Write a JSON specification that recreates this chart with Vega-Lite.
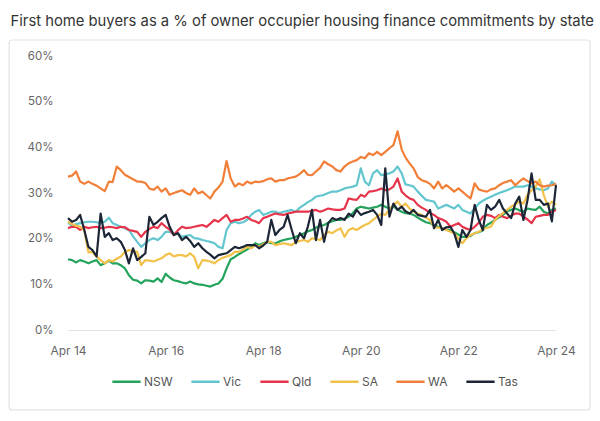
{
  "$schema": "https://vega.github.io/schema/vega-lite/v6.json",
  "width": 488,
  "height": 274,
  "autosize": {"type": "none"},
  "padding": {"left": 68, "top": 56, "right": 44, "bottom": 91},
  "background": "white",
  "title": {
    "text": "First home buyers as a % of owner occupier housing finance commitments by state",
    "anchor": "start",
    "frame": "bounds",
    "dx": 2,
    "offset": 11,
    "font": "Inter",
    "fontSize": 14.8,
    "fontWeight": "normal",
    "color": "#333333"
  },
  "datasets": {
    "NSW": [
      {"d":"2014-04","v":15.5},{"d":"2014-05","v":15.3},{"d":"2014-06","v":14.8},{"d":"2014-07","v":15.3},{"d":"2014-08","v":15.0},{"d":"2014-09","v":14.6},{"d":"2014-10","v":15.0},{"d":"2014-11","v":15.3},{"d":"2014-12","v":14.2},
      {"d":"2015-01","v":14.6},{"d":"2015-02","v":15.2},{"d":"2015-03","v":14.6},{"d":"2015-04","v":14.6},{"d":"2015-05","v":14.2},{"d":"2015-06","v":13.5},{"d":"2015-07","v":12.0},{"d":"2015-08","v":11.0},{"d":"2015-09","v":10.8},{"d":"2015-10","v":10.2},{"d":"2015-11","v":10.9},{"d":"2015-12","v":10.8},
      {"d":"2016-01","v":10.6},{"d":"2016-02","v":11.3},{"d":"2016-03","v":10.5},{"d":"2016-04","v":12.3},{"d":"2016-05","v":11.5},{"d":"2016-06","v":10.9},{"d":"2016-07","v":10.7},{"d":"2016-08","v":10.4},{"d":"2016-09","v":10.2},{"d":"2016-10","v":10.6},{"d":"2016-11","v":10.2},{"d":"2016-12","v":10.0},
      {"d":"2017-01","v":9.9},{"d":"2017-02","v":9.7},{"d":"2017-03","v":9.5},{"d":"2017-04","v":9.9},{"d":"2017-05","v":10.2},{"d":"2017-06","v":11.2},{"d":"2017-07","v":13.5},{"d":"2017-08","v":15.5},{"d":"2017-09","v":16.0},{"d":"2017-10","v":16.6},{"d":"2017-11","v":17.1},{"d":"2017-12","v":17.6},
      {"d":"2018-01","v":18.2},{"d":"2018-02","v":19.0},{"d":"2018-03","v":18.6},{"d":"2018-04","v":19.0},{"d":"2018-05","v":19.3},{"d":"2018-06","v":19.0},{"d":"2018-07","v":19.0},{"d":"2018-08","v":19.4},{"d":"2018-09","v":19.7},{"d":"2018-10","v":19.9},{"d":"2018-11","v":20.1},{"d":"2018-12","v":20.4},
      {"d":"2019-01","v":20.8},{"d":"2019-02","v":21.2},{"d":"2019-03","v":21.6},{"d":"2019-04","v":21.9},{"d":"2019-05","v":22.4},{"d":"2019-06","v":22.8},{"d":"2019-07","v":23.0},{"d":"2019-08","v":23.5},{"d":"2019-09","v":23.8},{"d":"2019-10","v":24.1},{"d":"2019-11","v":24.1},{"d":"2019-12","v":24.4},
      {"d":"2020-01","v":24.8},{"d":"2020-02","v":25.6},{"d":"2020-03","v":26.6},{"d":"2020-04","v":27.0},{"d":"2020-05","v":26.8},{"d":"2020-06","v":26.6},{"d":"2020-07","v":26.8},{"d":"2020-08","v":27.0},{"d":"2020-09","v":27.4},{"d":"2020-10","v":27.0},{"d":"2020-11","v":26.6},{"d":"2020-12","v":27.0},
      {"d":"2021-01","v":26.4},{"d":"2021-02","v":25.9},{"d":"2021-03","v":25.6},{"d":"2021-04","v":25.5},{"d":"2021-05","v":25.2},{"d":"2021-06","v":24.6},{"d":"2021-07","v":24.1},{"d":"2021-08","v":23.6},{"d":"2021-09","v":23.4},{"d":"2021-10","v":23.0},{"d":"2021-11","v":22.6},{"d":"2021-12","v":22.3},
      {"d":"2022-01","v":22.0},{"d":"2022-02","v":21.8},{"d":"2022-03","v":21.4},{"d":"2022-04","v":20.9},{"d":"2022-05","v":20.4},{"d":"2022-06","v":20.4},{"d":"2022-07","v":20.6},{"d":"2022-08","v":21.2},{"d":"2022-09","v":21.4},{"d":"2022-10","v":21.8},{"d":"2022-11","v":23.0},{"d":"2022-12","v":23.5},
      {"d":"2023-01","v":24.1},{"d":"2023-02","v":24.7},{"d":"2023-03","v":25.2},{"d":"2023-04","v":26.0},{"d":"2023-05","v":26.3},{"d":"2023-06","v":26.6},{"d":"2023-07","v":26.2},{"d":"2023-08","v":25.9},{"d":"2023-09","v":26.6},{"d":"2023-10","v":26.4},{"d":"2023-11","v":26.3},{"d":"2023-12","v":27.0},
      {"d":"2024-01","v":25.9},{"d":"2024-02","v":25.5},{"d":"2024-03","v":26.3},{"d":"2024-04","v":26.6}
    ],
    "Vic": [
      {"d":"2014-04","v":23.5},{"d":"2014-05","v":22.8},{"d":"2014-06","v":23.2},{"d":"2014-07","v":23.4},{"d":"2014-08","v":23.6},{"d":"2014-09","v":23.7},{"d":"2014-10","v":23.7},{"d":"2014-11","v":23.6},{"d":"2014-12","v":23.4},
      {"d":"2015-01","v":23.7},{"d":"2015-02","v":24.6},{"d":"2015-03","v":23.4},{"d":"2015-04","v":23.0},{"d":"2015-05","v":22.6},{"d":"2015-06","v":22.3},{"d":"2015-07","v":21.9},{"d":"2015-08","v":20.5},{"d":"2015-09","v":19.3},{"d":"2015-10","v":18.2},{"d":"2015-11","v":19.0},{"d":"2015-12","v":19.7},
      {"d":"2016-01","v":20.1},{"d":"2016-02","v":19.7},{"d":"2016-03","v":20.4},{"d":"2016-04","v":21.5},{"d":"2016-05","v":21.5},{"d":"2016-06","v":21.0},{"d":"2016-07","v":21.2},{"d":"2016-08","v":20.4},{"d":"2016-09","v":20.6},{"d":"2016-10","v":20.8},{"d":"2016-11","v":20.1},{"d":"2016-12","v":20.0},
      {"d":"2017-01","v":19.7},{"d":"2017-02","v":19.5},{"d":"2017-03","v":19.3},{"d":"2017-04","v":19.0},{"d":"2017-05","v":18.2},{"d":"2017-06","v":17.9},{"d":"2017-07","v":21.9},{"d":"2017-08","v":23.4},{"d":"2017-09","v":23.7},{"d":"2017-10","v":23.4},{"d":"2017-11","v":23.6},{"d":"2017-12","v":24.1},
      {"d":"2018-01","v":25.2},{"d":"2018-02","v":25.9},{"d":"2018-03","v":26.3},{"d":"2018-04","v":25.2},{"d":"2018-05","v":25.5},{"d":"2018-06","v":25.9},{"d":"2018-07","v":25.9},{"d":"2018-08","v":25.6},{"d":"2018-09","v":25.9},{"d":"2018-10","v":26.1},{"d":"2018-11","v":26.3},{"d":"2018-12","v":25.9},
      {"d":"2019-01","v":26.8},{"d":"2019-02","v":27.4},{"d":"2019-03","v":28.0},{"d":"2019-04","v":28.5},{"d":"2019-05","v":29.2},{"d":"2019-06","v":29.4},{"d":"2019-07","v":29.6},{"d":"2019-08","v":30.0},{"d":"2019-09","v":30.3},{"d":"2019-10","v":30.3},{"d":"2019-11","v":30.6},{"d":"2019-12","v":31.0},
      {"d":"2020-01","v":31.2},{"d":"2020-02","v":31.4},{"d":"2020-03","v":31.7},{"d":"2020-04","v":35.4},{"d":"2020-05","v":32.5},{"d":"2020-06","v":31.7},{"d":"2020-07","v":34.3},{"d":"2020-08","v":35.0},{"d":"2020-09","v":33.9},{"d":"2020-10","v":34.1},{"d":"2020-11","v":34.3},{"d":"2020-12","v":34.7},
      {"d":"2021-01","v":35.8},{"d":"2021-02","v":34.3},{"d":"2021-03","v":31.9},{"d":"2021-04","v":31.7},{"d":"2021-05","v":31.4},{"d":"2021-06","v":30.3},{"d":"2021-07","v":29.4},{"d":"2021-08","v":28.5},{"d":"2021-09","v":28.3},{"d":"2021-10","v":28.1},{"d":"2021-11","v":26.6},{"d":"2021-12","v":27.0},
      {"d":"2022-01","v":27.4},{"d":"2022-02","v":27.0},{"d":"2022-03","v":26.6},{"d":"2022-04","v":27.4},{"d":"2022-05","v":26.3},{"d":"2022-06","v":25.9},{"d":"2022-07","v":25.5},{"d":"2022-08","v":26.6},{"d":"2022-09","v":27.7},{"d":"2022-10","v":28.3},{"d":"2022-11","v":28.8},{"d":"2022-12","v":29.2},
      {"d":"2023-01","v":29.6},{"d":"2023-02","v":30.0},{"d":"2023-03","v":30.3},{"d":"2023-04","v":30.6},{"d":"2023-05","v":31.0},{"d":"2023-06","v":31.4},{"d":"2023-07","v":31.4},{"d":"2023-08","v":31.4},{"d":"2023-09","v":31.7},{"d":"2023-10","v":31.4},{"d":"2023-11","v":31.0},{"d":"2023-12","v":30.8},
      {"d":"2024-01","v":30.6},{"d":"2024-02","v":31.0},{"d":"2024-03","v":32.5},{"d":"2024-04","v":31.7}
    ],
    "Qld": [
      {"d":"2014-04","v":22.3},{"d":"2014-05","v":22.6},{"d":"2014-06","v":22.6},{"d":"2014-07","v":21.9},{"d":"2014-08","v":22.6},{"d":"2014-09","v":22.3},{"d":"2014-10","v":22.5},{"d":"2014-11","v":22.6},{"d":"2014-12","v":22.3},
      {"d":"2015-01","v":22.4},{"d":"2015-02","v":22.6},{"d":"2015-03","v":22.5},{"d":"2015-04","v":22.3},{"d":"2015-05","v":22.6},{"d":"2015-06","v":22.5},{"d":"2015-07","v":21.9},{"d":"2015-08","v":21.7},{"d":"2015-09","v":21.5},{"d":"2015-10","v":20.4},{"d":"2015-11","v":21.5},{"d":"2015-12","v":22.1},
      {"d":"2016-01","v":22.6},{"d":"2016-02","v":22.3},{"d":"2016-03","v":23.4},{"d":"2016-04","v":22.6},{"d":"2016-05","v":22.0},{"d":"2016-06","v":20.8},{"d":"2016-07","v":21.8},{"d":"2016-08","v":22.6},{"d":"2016-09","v":22.3},{"d":"2016-10","v":22.4},{"d":"2016-11","v":22.6},{"d":"2016-12","v":22.8},
      {"d":"2017-01","v":23.0},{"d":"2017-02","v":22.6},{"d":"2017-03","v":23.3},{"d":"2017-04","v":24.1},{"d":"2017-05","v":23.7},{"d":"2017-06","v":24.5},{"d":"2017-07","v":25.2},{"d":"2017-08","v":23.7},{"d":"2017-09","v":24.1},{"d":"2017-10","v":24.1},{"d":"2017-11","v":24.4},{"d":"2017-12","v":24.8},
      {"d":"2018-01","v":24.1},{"d":"2018-02","v":23.8},{"d":"2018-03","v":23.4},{"d":"2018-04","v":24.5},{"d":"2018-05","v":24.8},{"d":"2018-06","v":25.2},{"d":"2018-07","v":25.5},{"d":"2018-08","v":25.3},{"d":"2018-09","v":25.2},{"d":"2018-10","v":25.5},{"d":"2018-11","v":25.7},{"d":"2018-12","v":25.9},
      {"d":"2019-01","v":25.9},{"d":"2019-02","v":25.9},{"d":"2019-03","v":25.9},{"d":"2019-04","v":26.1},{"d":"2019-05","v":26.3},{"d":"2019-06","v":25.9},{"d":"2019-07","v":26.2},{"d":"2019-08","v":26.6},{"d":"2019-09","v":26.4},{"d":"2019-10","v":26.3},{"d":"2019-11","v":26.3},{"d":"2019-12","v":26.6},
      {"d":"2020-01","v":28.8},{"d":"2020-02","v":28.6},{"d":"2020-03","v":28.5},{"d":"2020-04","v":29.6},{"d":"2020-05","v":29.2},{"d":"2020-06","v":30.3},{"d":"2020-07","v":30.4},{"d":"2020-08","v":30.6},{"d":"2020-09","v":31.0},{"d":"2020-10","v":30.6},{"d":"2020-11","v":30.8},{"d":"2020-12","v":31.4},
      {"d":"2021-01","v":33.2},{"d":"2021-02","v":30.3},{"d":"2021-03","v":29.5},{"d":"2021-04","v":28.8},{"d":"2021-05","v":28.5},{"d":"2021-06","v":27.4},{"d":"2021-07","v":26.8},{"d":"2021-08","v":26.3},{"d":"2021-09","v":25.6},{"d":"2021-10","v":25.2},{"d":"2021-11","v":24.5},{"d":"2021-12","v":24.2},
      {"d":"2022-01","v":23.7},{"d":"2022-02","v":22.6},{"d":"2022-03","v":23.0},{"d":"2022-04","v":23.4},{"d":"2022-05","v":22.6},{"d":"2022-06","v":22.2},{"d":"2022-07","v":21.9},{"d":"2022-08","v":22.6},{"d":"2022-09","v":23.5},{"d":"2022-10","v":24.8},{"d":"2022-11","v":25.2},{"d":"2022-12","v":25.0},
      {"d":"2023-01","v":24.5},{"d":"2023-02","v":25.2},{"d":"2023-03","v":24.8},{"d":"2023-04","v":24.5},{"d":"2023-05","v":25.0},{"d":"2023-06","v":25.5},{"d":"2023-07","v":25.5},{"d":"2023-08","v":24.8},{"d":"2023-09","v":24.2},{"d":"2023-10","v":23.4},{"d":"2023-11","v":24.8},{"d":"2023-12","v":25.0},
      {"d":"2024-01","v":25.2},{"d":"2024-02","v":25.2},{"d":"2024-03","v":25.9},{"d":"2024-04","v":26.3}
    ],
    "SA": [
      {"d":"2014-04","v":23.7},{"d":"2014-05","v":23.2},{"d":"2014-06","v":22.8},{"d":"2014-07","v":22.6},{"d":"2014-08","v":21.9},{"d":"2014-09","v":17.0},{"d":"2014-10","v":17.1},{"d":"2014-11","v":16.1},{"d":"2014-12","v":15.3},
      {"d":"2015-01","v":14.6},{"d":"2015-02","v":15.3},{"d":"2015-03","v":15.0},{"d":"2015-04","v":15.6},{"d":"2015-05","v":16.1},{"d":"2015-06","v":17.1},{"d":"2015-07","v":17.5},{"d":"2015-08","v":17.3},{"d":"2015-09","v":17.1},{"d":"2015-10","v":14.2},{"d":"2015-11","v":15.3},{"d":"2015-12","v":15.2},
      {"d":"2016-01","v":15.0},{"d":"2016-02","v":15.4},{"d":"2016-03","v":15.7},{"d":"2016-04","v":16.4},{"d":"2016-05","v":16.8},{"d":"2016-06","v":16.1},{"d":"2016-07","v":16.4},{"d":"2016-08","v":16.4},{"d":"2016-09","v":16.1},{"d":"2016-10","v":16.8},{"d":"2016-11","v":16.0},{"d":"2016-12","v":13.5},
      {"d":"2017-01","v":15.3},{"d":"2017-02","v":15.2},{"d":"2017-03","v":15.0},{"d":"2017-04","v":14.6},{"d":"2017-05","v":15.3},{"d":"2017-06","v":15.8},{"d":"2017-07","v":16.1},{"d":"2017-08","v":16.4},{"d":"2017-09","v":17.1},{"d":"2017-10","v":17.1},{"d":"2017-11","v":17.6},{"d":"2017-12","v":18.2},
      {"d":"2018-01","v":17.9},{"d":"2018-02","v":18.6},{"d":"2018-03","v":18.2},{"d":"2018-04","v":18.8},{"d":"2018-05","v":19.3},{"d":"2018-06","v":19.3},{"d":"2018-07","v":18.6},{"d":"2018-08","v":18.8},{"d":"2018-09","v":19.0},{"d":"2018-10","v":18.8},{"d":"2018-11","v":18.6},{"d":"2018-12","v":19.3},
      {"d":"2019-01","v":19.5},{"d":"2019-02","v":19.7},{"d":"2019-03","v":19.3},{"d":"2019-04","v":20.1},{"d":"2019-05","v":19.9},{"d":"2019-06","v":19.7},{"d":"2019-07","v":20.8},{"d":"2019-08","v":21.5},{"d":"2019-09","v":21.2},{"d":"2019-10","v":21.8},{"d":"2019-11","v":22.3},{"d":"2019-12","v":20.4},
      {"d":"2020-01","v":21.9},{"d":"2020-02","v":22.3},{"d":"2020-03","v":21.9},{"d":"2020-04","v":22.5},{"d":"2020-05","v":23.0},{"d":"2020-06","v":23.4},{"d":"2020-07","v":24.1},{"d":"2020-08","v":24.8},{"d":"2020-09","v":25.5},{"d":"2020-10","v":25.2},{"d":"2020-11","v":26.3},{"d":"2020-12","v":27.4},
      {"d":"2021-01","v":28.1},{"d":"2021-02","v":27.0},{"d":"2021-03","v":27.7},{"d":"2021-04","v":26.6},{"d":"2021-05","v":25.9},{"d":"2021-06","v":25.5},{"d":"2021-07","v":25.2},{"d":"2021-08","v":24.6},{"d":"2021-09","v":24.1},{"d":"2021-10","v":22.6},{"d":"2021-11","v":22.4},{"d":"2021-12","v":22.3},
      {"d":"2022-01","v":21.9},{"d":"2022-02","v":21.5},{"d":"2022-03","v":21.2},{"d":"2022-04","v":20.0},{"d":"2022-05","v":19.0},{"d":"2022-06","v":20.1},{"d":"2022-07","v":20.8},{"d":"2022-08","v":21.2},{"d":"2022-09","v":21.5},{"d":"2022-10","v":22.1},{"d":"2022-11","v":22.4},{"d":"2022-12","v":22.6},
      {"d":"2023-01","v":24.1},{"d":"2023-02","v":25.0},{"d":"2023-03","v":25.6},{"d":"2023-04","v":26.3},{"d":"2023-05","v":27.0},{"d":"2023-06","v":27.5},{"d":"2023-07","v":28.1},{"d":"2023-08","v":27.7},{"d":"2023-09","v":29.6},{"d":"2023-10","v":30.6},{"d":"2023-11","v":31.4},{"d":"2023-12","v":33.0},
      {"d":"2024-01","v":29.5},{"d":"2024-02","v":27.0},{"d":"2024-03","v":28.1},{"d":"2024-04","v":27.4}
    ],
    "WA": [
      {"d":"2014-04","v":33.6},{"d":"2014-05","v":33.8},{"d":"2014-06","v":34.7},{"d":"2014-07","v":32.5},{"d":"2014-08","v":32.0},{"d":"2014-09","v":32.5},{"d":"2014-10","v":32.0},{"d":"2014-11","v":31.6},{"d":"2014-12","v":31.0},
      {"d":"2015-01","v":30.4},{"d":"2015-02","v":32.5},{"d":"2015-03","v":32.4},{"d":"2015-04","v":35.8},{"d":"2015-05","v":35.0},{"d":"2015-06","v":34.0},{"d":"2015-07","v":33.5},{"d":"2015-08","v":33.0},{"d":"2015-09","v":32.5},{"d":"2015-10","v":32.5},{"d":"2015-11","v":32.2},{"d":"2015-12","v":31.0},
      {"d":"2016-01","v":30.7},{"d":"2016-02","v":31.4},{"d":"2016-03","v":30.3},{"d":"2016-04","v":31.0},{"d":"2016-05","v":29.6},{"d":"2016-06","v":30.0},{"d":"2016-07","v":30.3},{"d":"2016-08","v":30.6},{"d":"2016-09","v":30.0},{"d":"2016-10","v":29.6},{"d":"2016-11","v":31.0},{"d":"2016-12","v":29.9},
      {"d":"2017-01","v":30.3},{"d":"2017-02","v":29.5},{"d":"2017-03","v":28.8},{"d":"2017-04","v":30.3},{"d":"2017-05","v":31.2},{"d":"2017-06","v":32.5},{"d":"2017-07","v":37.0},{"d":"2017-08","v":33.2},{"d":"2017-09","v":31.4},{"d":"2017-10","v":32.1},{"d":"2017-11","v":31.7},{"d":"2017-12","v":32.5},
      {"d":"2018-01","v":32.1},{"d":"2018-02","v":32.5},{"d":"2018-03","v":32.4},{"d":"2018-04","v":32.6},{"d":"2018-05","v":33.0},{"d":"2018-06","v":33.2},{"d":"2018-07","v":32.5},{"d":"2018-08","v":32.8},{"d":"2018-09","v":32.8},{"d":"2018-10","v":33.2},{"d":"2018-11","v":33.4},{"d":"2018-12","v":33.6},
      {"d":"2019-01","v":34.2},{"d":"2019-02","v":35.0},{"d":"2019-03","v":34.0},{"d":"2019-04","v":33.9},{"d":"2019-05","v":34.7},{"d":"2019-06","v":35.5},{"d":"2019-07","v":36.9},{"d":"2019-08","v":36.3},{"d":"2019-09","v":35.8},{"d":"2019-10","v":35.0},{"d":"2019-11","v":34.7},{"d":"2019-12","v":35.8},
      {"d":"2020-01","v":36.5},{"d":"2020-02","v":36.9},{"d":"2020-03","v":37.2},{"d":"2020-04","v":37.9},{"d":"2020-05","v":37.6},{"d":"2020-06","v":38.7},{"d":"2020-07","v":38.3},{"d":"2020-08","v":39.0},{"d":"2020-09","v":38.3},{"d":"2020-10","v":39.0},{"d":"2020-11","v":39.8},{"d":"2020-12","v":40.5},
      {"d":"2021-01","v":43.5},{"d":"2021-02","v":39.5},{"d":"2021-03","v":37.8},{"d":"2021-04","v":36.5},{"d":"2021-05","v":35.4},{"d":"2021-06","v":33.5},{"d":"2021-07","v":32.8},{"d":"2021-08","v":32.5},{"d":"2021-09","v":32.0},{"d":"2021-10","v":31.0},{"d":"2021-11","v":32.5},{"d":"2021-12","v":31.0},
      {"d":"2022-01","v":31.7},{"d":"2022-02","v":31.0},{"d":"2022-03","v":30.3},{"d":"2022-04","v":31.0},{"d":"2022-05","v":30.3},{"d":"2022-06","v":29.5},{"d":"2022-07","v":28.8},{"d":"2022-08","v":32.1},{"d":"2022-09","v":30.8},{"d":"2022-10","v":30.5},{"d":"2022-11","v":30.3},{"d":"2022-12","v":30.8},
      {"d":"2023-01","v":31.0},{"d":"2023-02","v":31.7},{"d":"2023-03","v":32.2},{"d":"2023-04","v":32.5},{"d":"2023-05","v":32.8},{"d":"2023-06","v":31.7},{"d":"2023-07","v":32.5},{"d":"2023-08","v":33.2},{"d":"2023-09","v":32.6},{"d":"2023-10","v":32.1},{"d":"2023-11","v":32.5},{"d":"2023-12","v":31.7},
      {"d":"2024-01","v":31.4},{"d":"2024-02","v":31.6},{"d":"2024-03","v":31.7},{"d":"2024-04","v":32.0}
    ],
    "Tas": [
      {"d":"2014-04","v":24.5},{"d":"2014-05","v":23.7},{"d":"2014-06","v":24.1},{"d":"2014-07","v":25.2},{"d":"2014-08","v":21.9},{"d":"2014-09","v":18.2},{"d":"2014-10","v":17.5},{"d":"2014-11","v":16.1},{"d":"2014-12","v":25.5},
      {"d":"2015-01","v":20.4},{"d":"2015-02","v":21.2},{"d":"2015-03","v":19.7},{"d":"2015-04","v":20.1},{"d":"2015-05","v":19.3},{"d":"2015-06","v":17.5},{"d":"2015-07","v":14.6},{"d":"2015-08","v":17.9},{"d":"2015-09","v":15.3},{"d":"2015-10","v":16.0},{"d":"2015-11","v":16.8},{"d":"2015-12","v":24.8},
      {"d":"2016-01","v":23.0},{"d":"2016-02","v":23.7},{"d":"2016-03","v":24.5},{"d":"2016-04","v":25.2},{"d":"2016-05","v":22.6},{"d":"2016-06","v":20.8},{"d":"2016-07","v":21.2},{"d":"2016-08","v":19.7},{"d":"2016-09","v":20.4},{"d":"2016-10","v":19.5},{"d":"2016-11","v":18.2},{"d":"2016-12","v":19.0},
      {"d":"2017-01","v":17.9},{"d":"2017-02","v":17.1},{"d":"2017-03","v":16.5},{"d":"2017-04","v":15.7},{"d":"2017-05","v":16.4},{"d":"2017-06","v":16.6},{"d":"2017-07","v":16.8},{"d":"2017-08","v":17.5},{"d":"2017-09","v":18.2},{"d":"2017-10","v":17.9},{"d":"2017-11","v":18.2},{"d":"2017-12","v":18.6},
      {"d":"2018-01","v":18.6},{"d":"2018-02","v":18.6},{"d":"2018-03","v":17.9},{"d":"2018-04","v":18.5},{"d":"2018-05","v":19.3},{"d":"2018-06","v":24.1},{"d":"2018-07","v":20.8},{"d":"2018-08","v":21.9},{"d":"2018-09","v":22.6},{"d":"2018-10","v":25.2},{"d":"2018-11","v":21.9},{"d":"2018-12","v":19.0},
      {"d":"2019-01","v":21.2},{"d":"2019-02","v":20.1},{"d":"2019-03","v":22.6},{"d":"2019-04","v":26.3},{"d":"2019-05","v":19.7},{"d":"2019-06","v":24.1},{"d":"2019-07","v":19.3},{"d":"2019-08","v":23.4},{"d":"2019-09","v":24.5},{"d":"2019-10","v":24.1},{"d":"2019-11","v":24.5},{"d":"2019-12","v":24.1},
      {"d":"2020-01","v":25.5},{"d":"2020-02","v":24.8},{"d":"2020-03","v":26.3},{"d":"2020-04","v":25.2},{"d":"2020-05","v":25.6},{"d":"2020-06","v":25.9},{"d":"2020-07","v":26.3},{"d":"2020-08","v":25.2},{"d":"2020-09","v":23.0},{"d":"2020-10","v":35.4},{"d":"2020-11","v":24.8},{"d":"2020-12","v":27.7},
      {"d":"2021-01","v":26.3},{"d":"2021-02","v":27.0},{"d":"2021-03","v":26.0},{"d":"2021-04","v":25.5},{"d":"2021-05","v":26.3},{"d":"2021-06","v":25.2},{"d":"2021-07","v":25.0},{"d":"2021-08","v":24.8},{"d":"2021-09","v":26.3},{"d":"2021-10","v":22.3},{"d":"2021-11","v":24.1},{"d":"2021-12","v":21.9},
      {"d":"2022-01","v":22.5},{"d":"2022-02","v":22.6},{"d":"2022-03","v":21.2},{"d":"2022-04","v":18.2},{"d":"2022-05","v":21.9},{"d":"2022-06","v":20.4},{"d":"2022-07","v":21.9},{"d":"2022-08","v":27.4},{"d":"2022-09","v":24.1},{"d":"2022-10","v":21.9},{"d":"2022-11","v":27.4},{"d":"2022-12","v":26.3},
      {"d":"2023-01","v":27.0},{"d":"2023-02","v":28.5},{"d":"2023-03","v":26.6},{"d":"2023-04","v":25.5},{"d":"2023-05","v":24.5},{"d":"2023-06","v":27.7},{"d":"2023-07","v":29.2},{"d":"2023-08","v":24.1},{"d":"2023-09","v":28.5},{"d":"2023-10","v":34.3},{"d":"2023-11","v":28.5},{"d":"2023-12","v":28.5},
      {"d":"2024-01","v":27.4},{"d":"2024-02","v":27.7},{"d":"2024-03","v":23.8},{"d":"2024-04","v":31.7}
    ]
  },
  "layer": [
    {
      "data": {"values": [{}]},
      "mark": {"type": "rect", "filled": false, "stroke": "#e3e3e3", "strokeWidth": 1.2, "cornerRadius": 3},
      "encoding": {
        "x": {"datum": {"year": 2013, "month": 1, "date": 15, "utc": true}, "type": "temporal"},
        "x2": {"datum": {"year": 2024, "month": 12, "date": 12, "utc": true}},
        "y": {"datum": 63.5, "type": "quantitative"},
        "y2": {"datum": -17.5}
      }
    },
    {
      "data": {"name": "NSW"},
      "mark": {"type": "line", "strokeWidth": 2.2, "strokeJoin": "round"},
      "encoding": {
        "x": {
          "field": "d",
          "type": "temporal",
          "scale": {"type": "utc", "domain": [{"year": 2014, "month": 4, "date": 1, "utc": true}, {"year": 2024, "month": 4, "date": 1, "utc": true}]},
          "axis": {
            "title": null,
            "values": [
              {"year": 2014, "month": 4, "date": 1, "utc": true},
              {"year": 2016, "month": 4, "date": 1, "utc": true},
              {"year": 2018, "month": 4, "date": 1, "utc": true},
              {"year": 2020, "month": 4, "date": 1, "utc": true},
              {"year": 2022, "month": 4, "date": 1, "utc": true},
              {"year": 2024, "month": 4, "date": 1, "utc": true}
            ],
            "labelExpr": "'Apr ' + utcFormat(datum.value, '%y')",
            "domain": true,
            "domainColor": "#e3e3e3",
            "domainWidth": 1.2,
            "labelPadding": 15,
            "labelFontSize": 12,
            "labelFlush": false
          }
        },
        "y": {
          "field": "v",
          "type": "quantitative",
          "scale": {"domain": [0, 60], "nice": false},
          "axis": {
            "title": null,
            "values": [0, 10, 20, 30, 40, 50, 60],
            "labelExpr": "datum.value + '%'",
            "labelPadding": 15
          }
        },
        "color": {
          "datum": "NSW",
          "type": "nominal",
          "scale": {
            "domain": ["NSW", "Vic", "Qld", "SA", "WA", "Tas"],
            "range": ["#23a35b", "#63c6cf", "#e6354b", "#f2c14a", "#f17f38", "#1d2636"]
          },
          "legend": {
            "title": null,
            "orient": "none",
            "legendX": 43,
            "legendY": 310,
            "direction": "horizontal",
            "symbolType": "stroke",
            "symbolSize": 800,
            "symbolStrokeWidth": 2.5,
            "labelOffset": 2,
            "columnPadding": 13
          }
        }
      }
    },
    {
      "data": {"name": "Vic"},
      "mark": {"type": "line", "strokeWidth": 2.2, "strokeJoin": "round"},
      "encoding": {
        "x": {"field": "d", "type": "temporal"},
        "y": {"field": "v", "type": "quantitative"},
        "color": {"datum": "Vic", "type": "nominal"}
      }
    },
    {
      "data": {"name": "Qld"},
      "mark": {"type": "line", "strokeWidth": 2.2, "strokeJoin": "round"},
      "encoding": {
        "x": {"field": "d", "type": "temporal"},
        "y": {"field": "v", "type": "quantitative"},
        "color": {"datum": "Qld", "type": "nominal"}
      }
    },
    {
      "data": {"name": "SA"},
      "mark": {"type": "line", "strokeWidth": 2.2, "strokeJoin": "round"},
      "encoding": {
        "x": {"field": "d", "type": "temporal"},
        "y": {"field": "v", "type": "quantitative"},
        "color": {"datum": "SA", "type": "nominal"}
      }
    },
    {
      "data": {"name": "WA"},
      "mark": {"type": "line", "strokeWidth": 2.2, "strokeJoin": "round"},
      "encoding": {
        "x": {"field": "d", "type": "temporal"},
        "y": {"field": "v", "type": "quantitative"},
        "color": {"datum": "WA", "type": "nominal"}
      }
    },
    {
      "data": {"name": "Tas"},
      "mark": {"type": "line", "strokeWidth": 2.2, "strokeJoin": "round"},
      "encoding": {
        "x": {"field": "d", "type": "temporal"},
        "y": {"field": "v", "type": "quantitative"},
        "color": {"datum": "Tas", "type": "nominal"}
      }
    }
  ],
  "config": {
    "view": {"stroke": null},
    "font": "Inter",
    "axis": {
      "labelFont": "Inter",
      "labelFontSize": 11.5,
      "labelColor": "#666666",
      "ticks": false,
      "grid": false,
      "domain": false
    },
    "legend": {
      "labelFont": "Inter",
      "labelFontSize": 12,
      "labelColor": "#555555"
    }
  }
}
